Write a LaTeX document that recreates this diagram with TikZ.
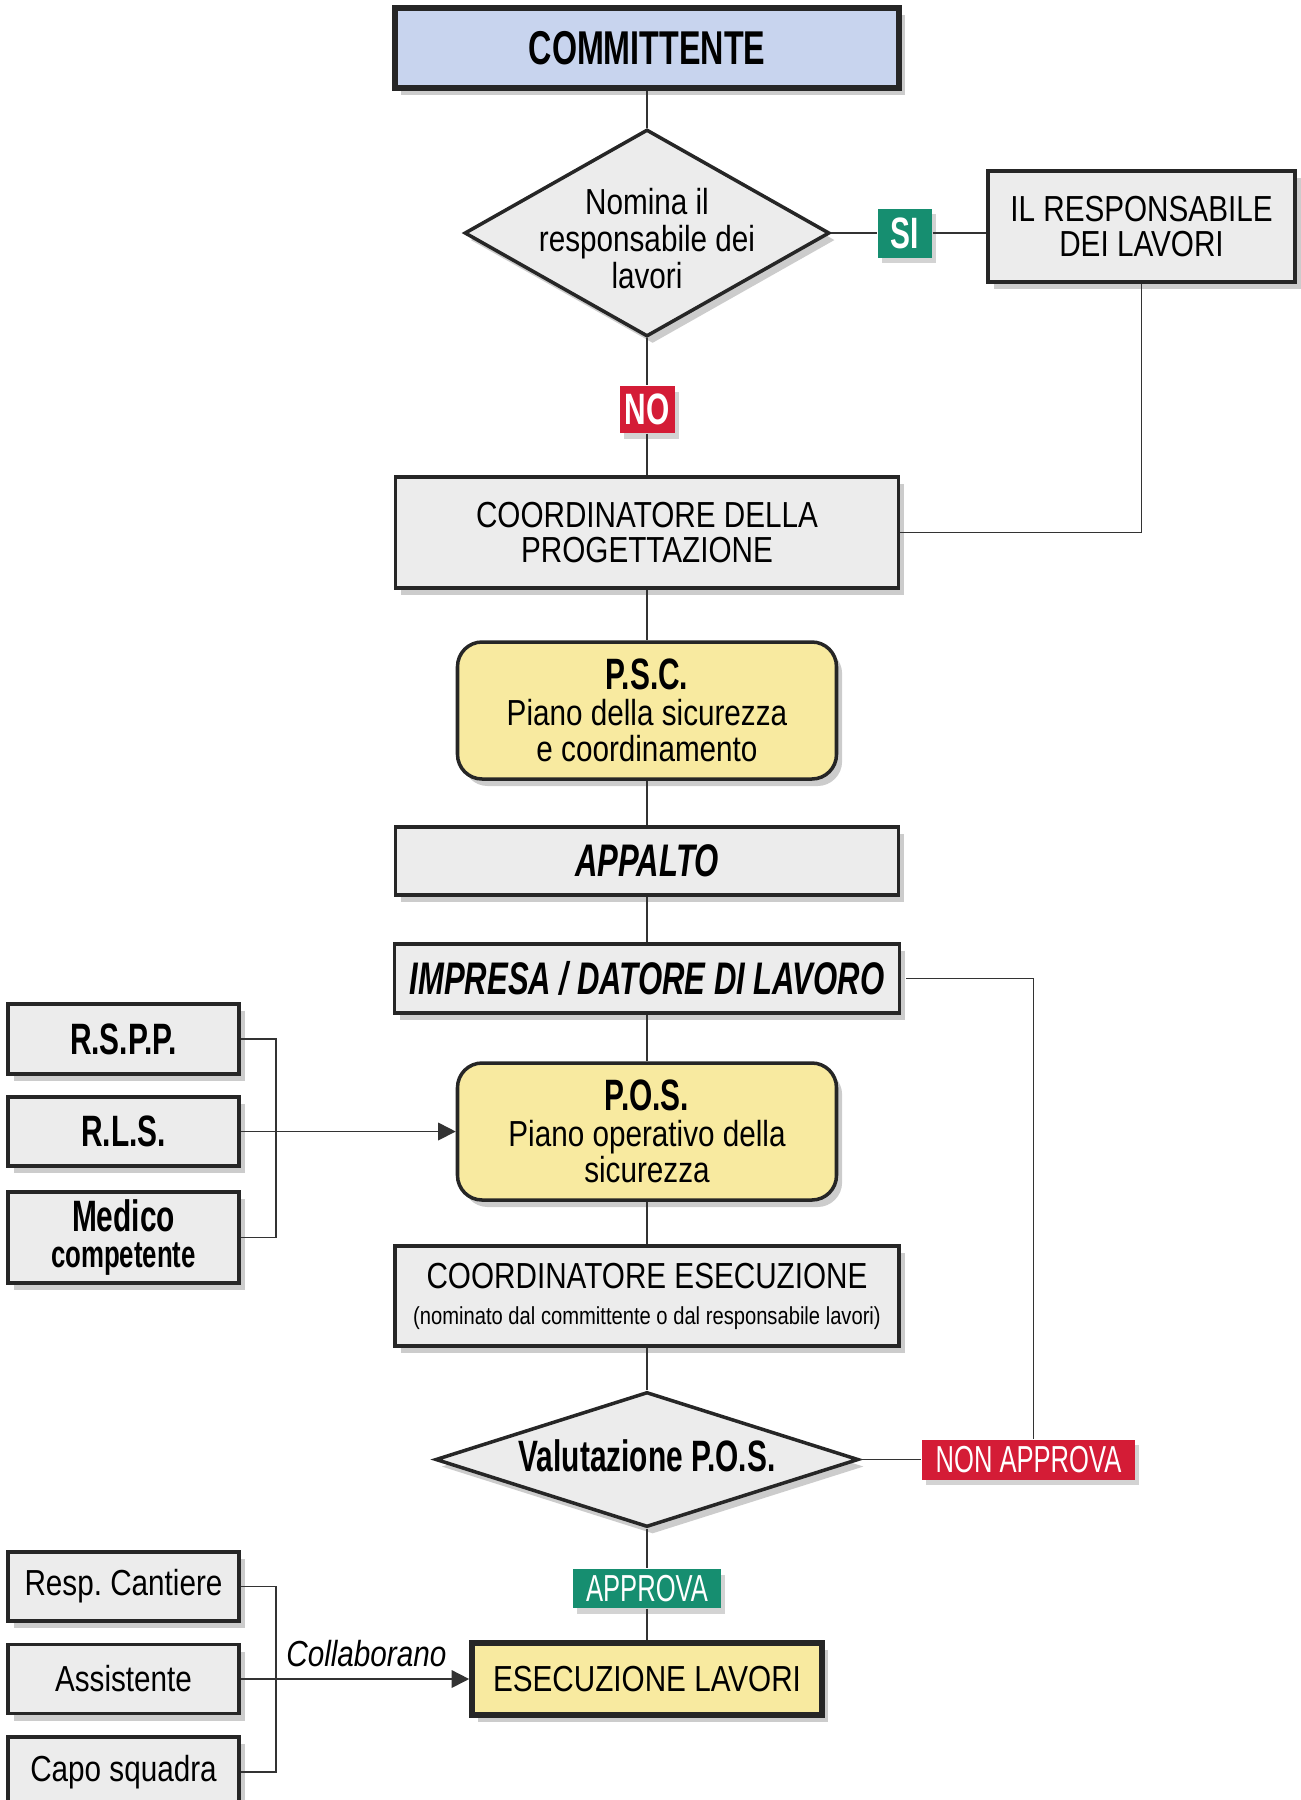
\documentclass[tikz,border=0pt]{standalone}
\usepackage{fontspec}
\setmainfont{Liberation Sans}[FakeStretch=0.82]
\newfontfamily\headfont{Liberation Sans}[FakeStretch=0.68]
\usetikzlibrary{positioning,arrows.meta,shapes.geometric,shadows,calc}
\frenchspacing

\definecolor{boxgray}{RGB}{236,236,236}
\definecolor{headblue}{RGB}{200,212,238}
\definecolor{planyellow}{RGB}{248,234,160}
\definecolor{tagred}{RGB}{212,28,54}
\definecolor{taggreen}{RGB}{22,142,112}

\newcommand{\bodyfont}{\fontsize{10.3}{10.2}\selectfont}
\newcommand{\headb}[1]{{\headfont\bfseries\fontsize{12.5}{12}\selectfont #1}}
\newcommand{\diamtext}[2][-3pt]{\makebox[0pt]{\raisebox{#1}[0pt][0pt]{\begin{tabular}{@{}c@{}}#2\end{tabular}}}}

\tikzset{
  base/.style={draw=black!85, line width=1pt, inner sep=0pt, align=center, font=\bodyfont,
    drop shadow={shadow xshift=1.6pt, shadow yshift=-2pt, opacity=0.4}},
  box/.style={base, rectangle, fill=boxgray},
  plan/.style={base, rounded corners=7pt, fill=planyellow},
  decision/.style={base, diamond, fill=boxgray},
  tag/.style={rectangle, inner sep=0pt, text=white,
    drop shadow={shadow xshift=1.2pt, shadow yshift=-1.6pt, opacity=0.35}},
  conn/.style={draw=black!80, line width=0.5pt},
  arr/.style={conn, -{Triangle[length=5pt,width=5pt]}},
}

\begin{document}
\begin{tikzpicture}
  \useasboundingbox (0,0) rectangle (13.01,-18.00);

  % Main column
  \node[box, fill=headblue, line width=1.6pt, minimum width=5.04cm, minimum height=0.80cm] (comm) at (6.47,-0.48)
    {\headfont\bfseries\fontsize{13.5}{13}\selectfont COMMITTENTE};
  \node[decision, minimum width=3.65cm, minimum height=2.07cm] (nomina) at (6.47,-2.33)
    {\diamtext[-5.6pt]{Nomina il\\responsabile dei\\lavori}};
  \node[tag, fill=taggreen, minimum width=0.54cm, minimum height=0.49cm] (si) at (9.05,-2.33) {\headb{SI}};
  \node[box, minimum width=3.07cm, minimum height=1.11cm] (resp) at (11.415,-2.265) {IL RESPONSABILE\\DEI LAVORI};
  \node[tag, fill=tagred, minimum width=0.55cm, minimum height=0.47cm] (no) at (6.47,-4.095) {\headb{NO}};
  \node[box, minimum width=5.03cm, minimum height=1.11cm] (cprog) at (6.47,-5.325) {COORDINATORE DELLA\\PROGETTAZIONE};
  \node[plan, minimum width=3.79cm, minimum height=1.37cm] (psc) at (6.47,-7.105)
    {\headb{P.S.C.}\\Piano della sicurezza\\e coordinamento};
  \node[box, minimum width=5.03cm, minimum height=0.68cm] (appalto) at (6.47,-8.61)
    {\headfont\bfseries\itshape\fontsize{13}{13}\selectfont APPALTO};
  \node[box, minimum width=5.05cm, minimum height=0.69cm] (impresa) at (6.47,-9.785)
    {\headfont\bfseries\itshape\fontsize{13}{13}\selectfont IMPRESA / DATORE DI LAVORO};
  \node[plan, minimum width=3.79cm, minimum height=1.37cm] (pos) at (6.47,-11.315)
    {\headb{P.O.S.}\\Piano operativo della\\sicurezza};
  \node[box, minimum width=5.04cm, minimum height=1.00cm] (cesec) at (6.47,-12.96)
    {COORDINATORE ESECUZIONE\\{\fontsize{7}{8}\selectfont (nominato dal committente o dal responsabile lavori)}};
  \node[decision, minimum width=4.23cm, minimum height=1.35cm] (valuta) at (6.47,-14.595)
    {\diamtext{\headb{Valutazione P.O.S.}}};
  \node[tag, fill=tagred, minimum width=2.13cm, minimum height=0.40cm] (nonapp) at (10.285,-14.595)
    {\headfont\fontsize{10.7}{10}\selectfont NON APPROVA};
  \node[tag, fill=taggreen, minimum width=1.48cm, minimum height=0.39cm] (approva) at (6.47,-15.885)
    {\headfont\fontsize{10.7}{10}\selectfont APPROVA};
  \node[box, fill=planyellow, line width=1.6pt, minimum width=3.50cm, minimum height=0.72cm] (esec) at (6.47,-16.79)
    {ESECUZIONE LAVORI};

  % Left column
  \node[box, minimum width=2.31cm, minimum height=0.70cm] (rspp) at (1.235,-10.39) {\headb{R.S.P.P.}};
  \node[box, minimum width=2.31cm, minimum height=0.69cm] (rls) at (1.235,-11.315) {\headb{R.L.S.}};
  \node[box, minimum width=2.31cm, minimum height=0.91cm] (medico) at (1.235,-12.375)
    {\headb{Medico}\\{\headfont\bfseries\fontsize{10.8}{10}\selectfont competente}};
  \node[box, minimum width=2.31cm, minimum height=0.69cm] (rescant) at (1.235,-15.865) {Resp.\ Cantiere};
  \node[box, minimum width=2.31cm, minimum height=0.69cm] (assist) at (1.235,-16.79) {Assistente};
  \node[box, minimum width=2.31cm, minimum height=0.70cm] (capo) at (1.235,-17.72) {Capo squadra};

  % Connectors
  \draw[conn] (comm.south) -- (nomina.north);
  \draw[conn] (nomina.east) -- (si.west);
  \draw[conn] (si.east) -- (si.east -| resp.west);
  \draw[conn] (nomina.south) -- (no.north);
  \draw[conn] (no.south) -- (cprog.north);
  \draw[conn] (resp.south) |- (cprog.east);
  \draw[conn] (cprog.south) -- (psc.north);
  \draw[conn] (psc.south) -- (appalto.north);
  \draw[conn] (appalto.south) -- (impresa.north);
  \draw[conn] (impresa.south) -- (pos.north);
  \draw[conn] (pos.south) -- (cesec.north);
  \draw[conn] (cesec.south) -- (valuta.north);
  \draw[conn] (valuta.east) -- (nonapp.west);
  \draw[conn] ([xshift=0.05cm]impresa.east) -| ([xshift=0.05cm]nonapp.north);
  \draw[conn] (valuta.south) -- (approva.north);
  \draw[conn] (approva.south) -- (esec.north);

  % Brackets
  \coordinate (brk) at (2.76,-11.315);
  \draw[conn] (rspp.east) -- (rspp.east -| brk) -- (medico.east -| brk) -- (medico.east);
  \draw[arr] (rls.east) -- (pos.west);
  \coordinate (brk2) at (2.76,-16.79);
  \draw[conn] (rescant.east) -- (rescant.east -| brk2) -- (capo.east -| brk2) -- (capo.east);
  \draw[arr] (assist.east) -- node[above, pos=0.55, font=\bodyfont\itshape] (collab) {Collaborano} (esec.west);
\end{tikzpicture}
\end{document}
